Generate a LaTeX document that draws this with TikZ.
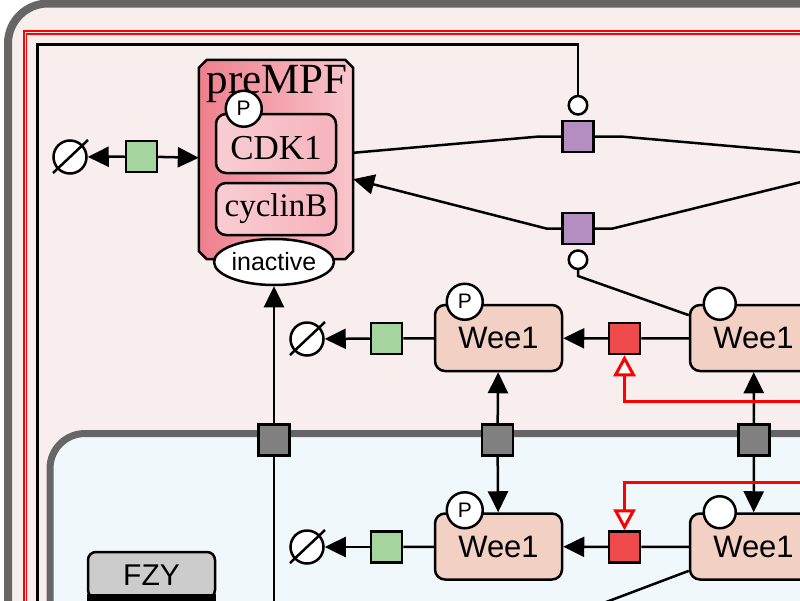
\documentclass[tikz,border=0pt]{standalone}
\usepackage{fontspec}
\setmainfont{Liberation Serif}
\setsansfont{Liberation Sans}
\usetikzlibrary{arrows.meta,shapes.geometric,positioning}
\definecolor{cytobg}{HTML}{F9EEEE}
\definecolor{nucbg}{HTML}{F1F8FB}
\definecolor{compline}{HTML}{666666}
\definecolor{weefill}{HTML}{F2D0C3}
\definecolor{procgreen}{HTML}{A6D49F}
\definecolor{procpurple}{HTML}{B48EC0}
\definecolor{procred}{HTML}{EF4B4D}
\definecolor{procgray}{HTML}{808080}
\definecolor{fzyfill}{HTML}{CCCCCC}
\definecolor{cplxL}{HTML}{EF7F8D}
\definecolor{cplxR}{HTML}{F9C6CD}
\definecolor{subL}{HTML}{F9CDD3}
\definecolor{subR}{HTML}{F6B3BD}

\begin{document}
\begin{tikzpicture}[x=1pt,y=-1pt]
  \tikzset{proc/.style = {rectangle,draw,line width=2.5pt,minimum size=31pt,inner sep=0pt}}
  \tikzset{macro/.style = {rectangle,rounded corners=10pt,draw,line width=2.5pt,fill=weefill,minimum width=127pt,minimum height=66pt,font=\sffamily\fontsize{31}{31}\selectfont}}
  \tikzset{sub/.style = {rectangle,rounded corners=10pt,draw,line width=2.5pt,left color=subL,right color=subR,minimum width=120pt,inner sep=0pt}}
  \tikzset{sv/.style = {circle,draw,line width=2.5pt,fill=white,inner sep=0pt,minimum size=36pt,font=\sffamily\fontsize{21}{21}\selectfont}}
  \tikzset{sink/.style = {circle,draw,line width=2.5pt,fill=white,minimum size=33pt,inner sep=0pt}}
  \tikzset{link/.style = {line width=2.5pt}}
  \tikzset{prod/.style = {link,-{Triangle[length=21pt,width=20pt]}}}
  \tikzset{modul/.style = {link,-{Circle[open,fill=white,length=21pt]},shorten >=4pt}}
  \tikzset{stim/.style = {line width=3pt,red,-{Triangle[open,fill=white,length=21pt,width=22pt]}}}

  \useasboundingbox (0,0) rectangle (800,600);
  \clip (0,0) rectangle (800,600);

  % compartments
  \draw[line width=8pt,compline,fill=cytobg,rounded corners=40pt] (8,3.5) rectangle (1000,900);
  \draw[red,line width=1.6pt,double=cytobg,double distance=1pt] (25,32.5) rectangle (1000,900);
  \draw[line width=7pt,compline,fill=nucbg,rounded corners=35pt] (50,433.5) rectangle (1000,900);

  % points outside the view
  \coordinate (MPF) at (890,160);
  \coordinate (srcL) at (37.5,640);
  \coordinate (srcT) at (274,640);
  \coordinate (stA) at (810,401.5);
  \coordinate (stB) at (810,482);
  \coordinate (offW) at (540,627);

  % preMPF complex
  \node[rectangle,minimum width=154pt,minimum height=199pt,inner sep=0pt] (pre) at (276,159.5) {};
  \draw[line width=2.5pt,left color=cplxL,right color=cplxR]
    ([yshift=-8pt]pre.north west) -- ([xshift=8pt]pre.north west) -- ([xshift=-8pt]pre.north east)
    -- ([yshift=-8pt]pre.north east) -- ([yshift=8pt]pre.south east) -- ([xshift=-8pt]pre.south east)
    -- ([xshift=8pt]pre.south west) -- ([yshift=8pt]pre.south west) -- cycle;
  \node[font=\fontsize{43}{43}\selectfont,anchor=base] (prelbl) at (277,93) {preMPF};
  \node[sub,minimum height=59pt,text height=33pt,font=\fontsize{35}{35}\selectfont] (cdk) at (276,143.5) {CDK1};
  \node[sub,minimum height=52pt,font=\fontsize{33}{33}\selectfont] (cyc) at (276,209) {cyclinB};
  \node[sv] (cdkP) at ([xshift=29pt,yshift=4pt]cdk.north west) {P};
  \node[ellipse,draw,fill=white,line width=2.5pt,minimum width=110pt,minimum height=46pt,inner sep=0pt,font=\sffamily\fontsize{25}{25}\selectfont] (ina) at (274,262) {inactive};

  % Wee1
  \node[macro] (w1) at (498.5,338) {Wee1};
  \node[macro] (w2) at (753.5,338) {Wee1};
  \node[macro] (w3) at (498.5,546.5) {Wee1};
  \node[macro] (w4) at (753.5,546.5) {Wee1};
  \node[sv] (w1P) at ([xshift=31pt,yshift=2pt]w1.north west) {P};
  \node[sv,minimum size=32pt] (w2s) at ([xshift=31pt]w2.north west) {};
  \node[sv] (w3P) at ([xshift=31pt,yshift=2pt]w3.north west) {P};
  \node[sv,minimum size=32pt] (w4s) at ([xshift=31pt]w4.north west) {};

  \node[rectangle,rounded corners=8pt,draw,line width=2.5pt,fill=fzyfill,minimum width=127pt,minimum height=46pt,font=\sffamily\fontsize{30}{30}\selectfont] (fzy) at (151.5,575) {FZY};
  \fill ([yshift=5pt]fzy.south west) rectangle ([yshift=-20pt]fzy.south east);

  % processes
  \node[proc,fill=procgreen] (gsC) at (141.5,156.5) {};
  \node[proc,fill=procgreen] (gsA) at (386.5,338.5) {};
  \node[proc,fill=procgreen] (gsB) at (386.5,547) {};
  \node[proc,fill=procpurple] (pA) at (578,136.5) {};
  \node[proc,fill=procpurple] (pB) at (578,228.5) {};
  \node[proc,fill=procred] (rA) at (624.5,338.5) {};
  \node[proc,fill=procred] (rB) at (624.5,547) {};
  \node[proc,fill=procgray] (t1) at (274,440) {};
  \node[proc,fill=procgray] (t2) at (497.5,440) {};
  \node[proc,fill=procgray] (t3) at (754,440) {};

  \node[sink] (s1) at (70,157) {};
  \node[sink] (s2) at (307,339) {};
  \node[sink] (s3) at (307,547) {};
  \foreach \s in {s1,s2,s3}
    \draw[link] (\s.center) ++(-17,16) -- ++(35,-33);

  \foreach \from/\to in {gsC/s1,gsC/pre,gsA/s2,gsB/s3,rA/w1,rB/w3,t1/ina,t2/w1,t2/w3,t3/w2,t3/w4}
    \path[prod] (\from) edge (\to);
  \foreach \from/\to in {w1/gsA,w3/gsB,w2/rA,w4/rB,srcT/t1,w4/offW}
    \path[link] (\from) edge (\to);

  \draw[link] (pA.west) -- ++(-22,0) -- (pre);
  \draw[link] (pA.east) -- ++(26,0) -- (MPF);
  \draw[prod] (pB.west) -- ++(-15,0) -- (pre);
  \draw[link] (pB.east) -- ++(18,0) -- (MPF);

  \draw[modul] (srcL) |- (pA.north |- 0,44.5) -- (pA.north);
  \draw[modul] (w2) -- (pB.south |- 0,276) -- (pB.south);

  \draw[stim] (stA) -| (rA.south);
  \draw[stim] (stB) -| (rB.north);
\end{tikzpicture}
\end{document}
